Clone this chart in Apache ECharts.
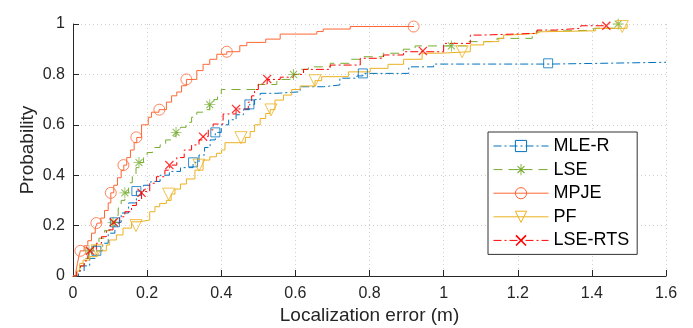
<!DOCTYPE html>
<html>
<head>
<meta charset="utf-8">
<script src="https://cdn.jsdelivr.net/npm/echarts@6/dist/echarts.min.js"></script>
<style>
  html, body { margin: 0; background: #fff; }
  #chart { width: 693px; height: 328px; }
</style>
</head>
<body>
<div id="chart"></div>
<script>
const mleR = [[0,0],[0.015,0.02],[0.03,0.04],[0.045,0.07],[0.063,0.10],[0.08,0.13],[0.095,0.17],[0.113,0.213],[0.13,0.25],[0.15,0.29],[0.171,0.337],[0.19,0.36],[0.21,0.375],[0.235,0.40],[0.26,0.415],[0.29,0.43],[0.324,0.451],[0.34,0.48],[0.355,0.51],[0.37,0.54],[0.384,0.57],[0.40,0.60],[0.42,0.62],[0.44,0.64],[0.46,0.66],[0.476,0.681],[0.49,0.70],[0.505,0.725],[0.55,0.731],[0.613,0.751],[0.676,0.758],[0.72,0.785],[0.766,0.794],[0.782,0.804],[0.906,0.83],[0.973,0.841],[1.29,0.848],[1.6,0.848]];
const lse = [[0,0],[0.01,0.02],[0.02,0.04],[0.03,0.07],[0.043,0.10],[0.055,0.12],[0.07,0.15],[0.085,0.18],[0.1,0.20],[0.108,0.213],[0.115,0.24],[0.122,0.27],[0.13,0.30],[0.14,0.33],[0.15,0.37],[0.16,0.40],[0.17,0.43],[0.178,0.45],[0.19,0.47],[0.2,0.49],[0.215,0.51],[0.235,0.52],[0.25,0.54],[0.265,0.555],[0.278,0.57],[0.29,0.59],[0.305,0.61],[0.32,0.63],[0.334,0.65],[0.35,0.66],[0.369,0.68],[0.38,0.70],[0.39,0.72],[0.40,0.74],[0.50,0.76],[0.55,0.78],[0.595,0.80],[0.61,0.82],[0.635,0.83],[0.694,0.844],[0.75,0.86],[0.78,0.87],[0.837,0.884],[0.891,0.90],[0.923,0.913],[1.063,0.93],[1.144,0.943],[1.239,0.956],[1.25,0.972],[1.30,0.975],[1.405,0.983],[1.471,1.0]];
const mpje = [[0,0],[0.008,0.02],[0.012,0.05],[0.016,0.08],[0.02,0.10],[0.03,0.12],[0.04,0.14],[0.05,0.17],[0.06,0.19],[0.065,0.21],[0.075,0.23],[0.085,0.26],[0.095,0.29],[0.102,0.33],[0.11,0.36],[0.12,0.39],[0.13,0.42],[0.137,0.44],[0.145,0.47],[0.155,0.50],[0.165,0.53],[0.172,0.55],[0.185,0.60],[0.203,0.63],[0.212,0.65],[0.232,0.66],[0.252,0.69],[0.266,0.715],[0.28,0.73],[0.293,0.755],[0.306,0.78],[0.334,0.815],[0.351,0.84],[0.369,0.86],[0.388,0.88],[0.415,0.89],[0.45,0.914],[0.469,0.927],[0.52,0.94],[0.559,0.96],[0.658,0.97],[0.675,0.98],[0.748,0.99],[0.92,0.99]];
const pf = [[0,0],[0.01,0.02],[0.018,0.05],[0.027,0.063],[0.045,0.077],[0.065,0.10],[0.09,0.123],[0.099,0.143],[0.117,0.163],[0.135,0.19],[0.158,0.215],[0.18,0.222],[0.207,0.255],[0.221,0.275],[0.234,0.288],[0.252,0.30],[0.265,0.325],[0.275,0.345],[0.29,0.365],[0.306,0.385],[0.329,0.42],[0.351,0.46],[0.369,0.473],[0.387,0.487],[0.401,0.50],[0.41,0.529],[0.45,0.529],[0.465,0.55],[0.478,0.573],[0.49,0.60],[0.505,0.625],[0.52,0.645],[0.532,0.66],[0.545,0.698],[0.568,0.718],[0.59,0.74],[0.613,0.754],[0.653,0.775],[0.671,0.791],[0.743,0.81],[0.802,0.824],[0.85,0.84],[0.892,0.86],[0.942,0.884],[0.99,0.89],[1.072,0.917],[1.108,0.93],[1.149,0.943],[1.162,0.956],[1.176,0.963],[1.252,0.969],[1.261,0.973],[1.41,0.983],[1.495,1.0]];
const lseRts = [[0,0],[0.01,0.02],[0.02,0.04],[0.03,0.06],[0.04,0.08],[0.045,0.10],[0.063,0.13],[0.077,0.156],[0.09,0.183],[0.108,0.21],[0.126,0.235],[0.14,0.255],[0.158,0.28],[0.171,0.30],[0.185,0.335],[0.207,0.368],[0.225,0.394],[0.248,0.42],[0.261,0.44],[0.28,0.47],[0.30,0.50],[0.32,0.52],[0.34,0.54],[0.351,0.553],[0.365,0.58],[0.378,0.603],[0.405,0.643],[0.44,0.663],[0.473,0.69],[0.482,0.715],[0.49,0.74],[0.5,0.762],[0.524,0.78],[0.559,0.789],[0.595,0.80],[0.622,0.82],[0.694,0.837],[0.775,0.864],[0.838,0.877],[0.892,0.89],[1.0,0.923],[1.072,0.956],[1.104,0.963],[1.252,0.976],[1.302,0.983],[1.37,0.993],[1.44,0.995]];

// marker positions
const mleRMarks = [[0.063,0.10],[0.113,0.213],[0.171,0.337],[0.324,0.451],[0.384,0.57],[0.476,0.681],[0.782,0.804],[1.282,0.844]];
const lseMarks = [[0.043,0.10],[0.108,0.213],[0.14,0.33],[0.178,0.45],[0.278,0.57],[0.369,0.68],[0.595,0.80],[1.021,0.913],[1.471,1.0]];
const mpjeMarks = [[0.02,0.10],[0.063,0.21],[0.102,0.33],[0.136,0.44],[0.171,0.55],[0.233,0.66],[0.306,0.78],[0.415,0.89],[0.919,0.99]];
const pfMarks = [[0.065,0.10],[0.17,0.20],[0.258,0.325],[0.34,0.44],[0.453,0.549],[0.534,0.659],[0.653,0.775],[1.05,0.89],[1.482,0.99]];
const lseRtsMarks = [[0.046,0.10],[0.11,0.213],[0.185,0.33],[0.26,0.44],[0.351,0.553],[0.44,0.663],[0.524,0.782],[0.944,0.893],[1.439,0.993]];

const names = ['MLE-R', 'LSE', 'MPJE', 'PF', 'LSE-RTS'];

const X_PATH = 'path://M0,1L1,0L5,4L9,0L10,1L6,5L10,9L9,10L5,6L1,10L0,9L4,5Z';
const STAR_PATH = 'path://M4.6,0H5.4V4.6H10V5.4H5.4V10H4.6V5.4H0V4.6H4.6Z' +
  'M1.5,2.2L2.2,1.5L5,4.3L7.8,1.5L8.5,2.2L5.7,5L8.5,7.8L7.8,8.5L5,5.7L2.2,8.5L1.5,7.8L4.3,5Z';
const TRI_DOWN = 'path://M0,0L10,0L5,8.7Z';

const styles = [
  { data: mleR, marks: mleRMarks, color: '#0072BD', dash: [8, 3, 2, 3], symbol: 'rect', size: 9, outline: true },
  { data: lse, marks: lseMarks, color: '#77AC30', dash: [9, 6], symbol: STAR_PATH, size: 11, outline: false },
  { data: mpje, marks: mpjeMarks, color: '#FF6633', dash: 'solid', symbol: 'circle', size: 11, outline: true },
  { data: pf, marks: pfMarks, color: '#EDB120', dash: 'solid', symbol: TRI_DOWN, size: 12, outline: true },
  { data: lseRts, marks: lseRtsMarks, color: '#FF0000', dash: [8, 3, 2, 3], symbol: X_PATH, size: 9, outline: false }
]

const markStyle = s => s.outline
  ? { color: 'rgba(0,0,0,0)', borderColor: s.color, borderWidth: 1 }
  : { color: s.color, borderWidth: 0 };

const series = []
styles.forEach((s, i) => {
  series.push({
    name: names[i],
    type: 'line',
    step: 'end',
    data: s.data,
    symbol: s.symbol,
    symbolSize: s.size,
    showSymbol: false,
    lineStyle: { color: s.color, width: 1, type: s.dash },
    itemStyle: markStyle(s),
    emphasis: { disabled: true },
    z: 2 + i
  })
  series.push({
    name: names[i] + ' marks',
    type: 'scatter',
    data: s.marks,
    symbol: s.symbol,
    symbolSize: s.size,
    itemStyle: markStyle(s),
    emphasis: { disabled: true },
    z: 10 + i
  })
})

const fmt = v => String(Math.round(v * 10) / 10);
const txt = '#262626';
const font = 'Liberation Sans';

const chart = echarts.init(document.getElementById('chart'));
chart.setOption({
  animation: false,
  backgroundColor: '#fff',
  textStyle: { fontFamily: font },
  grid: { left: 73, right: 27, top: 24, bottom: 52, containLabel: false, outerBoundsMode: 'none' },
  legend: {
    data: names.map((n, i) => ({
      name: n,
      itemStyle: markStyle(styles[i]),
      lineStyle: { color: styles[i].color, width: 1, type: styles[i].dash }
    })),
    orient: 'vertical',
    left: 488,
    top: 132,
    width: 147,
    padding: [5, 8, 5, 5],
    itemWidth: 55,
    itemHeight: 14,
    itemGap: 5.6,
    backgroundColor: '#fff',
    borderColor: '#333',
    borderWidth: 1,
    borderRadius: 0,
    selectedMode: false,
    textStyle: { fontSize: 18, lineHeight: 18, color: '#000', fontFamily: font }
  },
  xAxis: {
    type: 'value',
    min: 0,
    max: 1.6,
    interval: 0.2,
    name: 'Localization error (m)',
    nameLocation: 'middle',
    nameGap: 30,
    nameMoveOverlap: false,
    nameTextStyle: { fontSize: 19, color: txt },
    axisLine: { show: true, onZero: false, lineStyle: { color: txt, width: 1 } },
    axisTick: { show: true, inside: true, length: 6, lineStyle: { color: txt } },
    axisLabel: { fontSize: 16, color: txt, margin: 10, formatter: fmt },
    splitLine: { show: true, lineStyle: { color: '#cfcfcf', type: [1, 3] } }
  },
  yAxis: {
    type: 'value',
    min: 0,
    max: 1,
    interval: 0.2,
    name: 'Probability',
    nameLocation: 'middle',
    nameGap: 36,
    nameMoveOverlap: false,
    nameTextStyle: { fontSize: 19, color: txt },
    axisLine: { show: true, onZero: false, lineStyle: { color: txt, width: 1 } },
    axisTick: { show: true, inside: true, length: 6, lineStyle: { color: txt } },
    axisLabel: { fontSize: 16, color: txt, margin: 8, formatter: fmt },
    splitLine: { show: true, lineStyle: { color: '#cfcfcf', type: [1, 3] } }
  },
  series: series
});
</script>
</body>
</html>
